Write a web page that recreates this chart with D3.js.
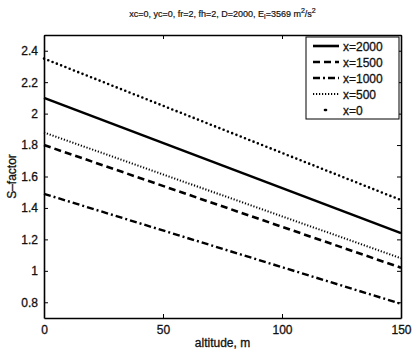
<!DOCTYPE html>
<html>
<head>
<meta charset="utf-8">
<script src="https://cdn.jsdelivr.net/npm/d3@7"></script>
<style>
  body { margin: 0; background: #fff; }
  text { font-family: "Liberation Sans", Arial, sans-serif; fill: #111; stroke: #111; stroke-width: 0.3px; }
</style>
</head>
<body>
<div id="container"></div>
<script>
// altitude (m) and S-factor values
var altitude = [0, 150];
var s2000 = [2.10, 1.24];
var s1500 = [1.80, 1.02];
var s1000 = [1.49, 0.79];
var s500  = [1.88, 1.08];
var s0    = [2.35, 1.45];
var seriesNames = ["x=2000", "x=1500", "x=1000", "x=500", "x=0"];
var xTicks = [0, 50, 100, 150];
var yTicks = [0.8, 1, 1.2, 1.4, 1.6, 1.8, 2, 2.2, 2.4];

var margin = {top: 35, right: 12, bottom: 33, left: 44},
    width = 413 - margin.left - margin.right,
    height = 351 - margin.top - margin.bottom;

var svg = d3.select("#container").append("svg")
    .attr("width", 413)
    .attr("height", 351);

var g = svg.append("g").attr("transform", "translate(" + margin.left + "," + margin.top + ")");

var xScale = d3.scaleLinear().domain([0, 150]).range([0, width]);
var yScale = d3.scaleLinear().domain([0.7, 2.5]).range([height, 0]);

var styles = [
  {dash: null, w: 2.6, cap: "butt"},
  {dash: "7,4", w: 2.6, cap: "butt"},
  {dash: "7,3,2,3", w: 2.4, cap: "butt"},
  {dash: "1.2,1.8", w: 2, cap: "butt"},
  {dash: "0,4.6", w: 2.6, cap: "round"}
];
var allSeries = [s2000, s1500, s1000, s500, s0];

var line = d3.line()
  .x(function(d, i) { return xScale(altitude[i]); })
  .y(function(d) { return yScale(d); });

allSeries.forEach(function(s, k) {
  g.append("path")
    .datum(s)
    .attr("d", line)
    .attr("fill", "none")
    .attr("stroke", "#000")
    .attr("stroke-width", styles[k].w)
    .attr("stroke-linecap", styles[k].cap)
    .attr("stroke-dasharray", styles[k].dash);
});

// axes, inside ticks on all four sides
g.append("g").attr("transform", "translate(0," + height + ")")
  .call(d3.axisBottom(xScale).tickValues(xTicks).tickSizeInner(-4).tickSizeOuter(0).tickPadding(7).tickFormat(d3.format("d")));
g.append("g")
  .call(d3.axisTop(xScale).tickValues(xTicks).tickSizeInner(-4).tickSizeOuter(0).tickFormat(""));
g.append("g")
  .call(d3.axisLeft(yScale).tickValues(yTicks).tickSizeInner(-4).tickSizeOuter(0).tickPadding(6).tickFormat(function(d){ return d3.format("")(d); }));
g.append("g").attr("transform", "translate(" + width + ",0)")
  .call(d3.axisRight(yScale).tickValues(yTicks).tickSizeInner(-4).tickSizeOuter(0).tickFormat(""));

g.selectAll(".domain").attr("stroke", "#000").attr("stroke-width", 1.6);
g.selectAll(".tick line").attr("stroke", "#000").attr("stroke-width", 1);
g.selectAll(".tick text").style("font-size", "12px").attr("fill", "#111");

// legend
var lg = svg.append("g").attr("transform", "translate(306,37)");
lg.append("rect").attr("width", 93).attr("height", 82)
  .attr("fill", "#fff").attr("stroke", "#000").attr("stroke-width", 1);
seriesNames.forEach(function(n, k) {
  var y = 9 + k * 16;
  lg.append("line").attr("y1", y).attr("y2", y)
    .attr("stroke", "#000")
    .attr("stroke-width", styles[k].w)
    .attr("stroke-linecap", styles[k].cap)
    .attr("stroke-dasharray", k == 4 ? null : styles[k].dash)
    .attr("x1", k == 4 ? 19 : 7).attr("x2", k == 4 ? 20 : 33);
  lg.append("text").attr("x", 37).attr("y", y + 4.5).style("font-size", "12px").text(n);
});

// title and labels
var title = svg.append("text").attr("x", margin.left + width / 2).attr("y", 17)
  .attr("text-anchor", "middle").style("font-size", "9px").style("stroke-width", "0.2px");
title.append("tspan").text("xc=0, yc=0, fr=2, fh=2, D=2000, E");
title.append("tspan").attr("dy", 2).style("font-size", "7px").text("l");
title.append("tspan").attr("dy", -2).text("=3569 m");
title.append("tspan").attr("dy", -4).style("font-size", "7px").text("2");
title.append("tspan").attr("dy", 4).text("/s");
title.append("tspan").attr("dy", -4).style("font-size", "7px").text("2");

svg.append("text").attr("x", margin.left + width / 2).attr("y", 347)
  .attr("text-anchor", "middle").style("font-size", "12px").text("altitude, m");

svg.append("text")
  .attr("transform", "translate(16," + (margin.top + height / 2) + ") rotate(-90)")
  .attr("text-anchor", "middle").style("font-size", "12px").text("S\u2013factor");
</script>
</body>
</html>
